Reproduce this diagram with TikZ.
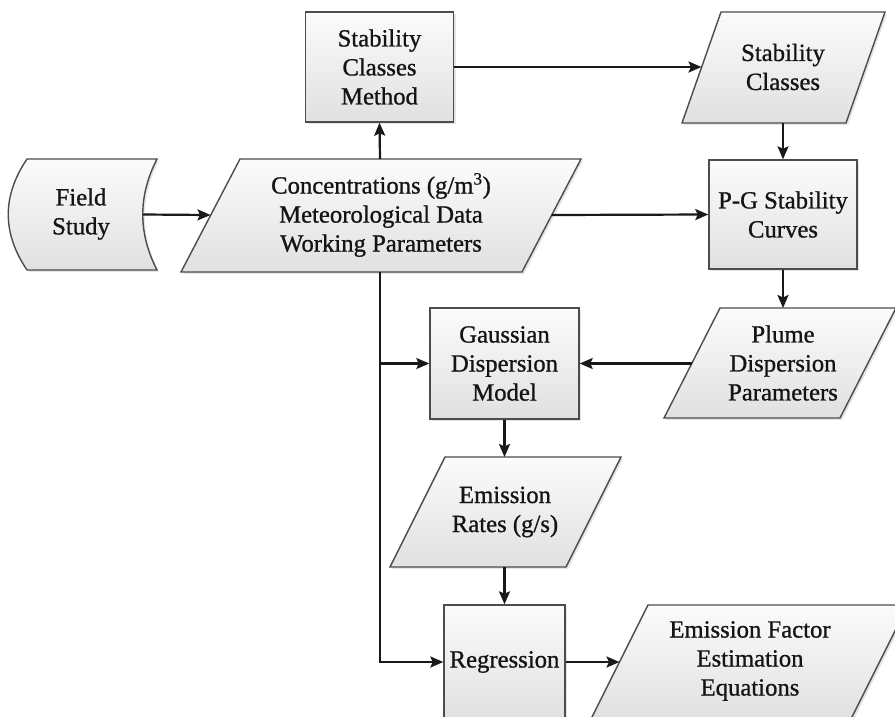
\documentclass[tikz,border=0pt]{standalone}
\usepackage{fontspec}
\setmainfont{Liberation Serif}
\newfontfamily\heavyserif{Liberation Serif}[FakeBold=0.9]
\usetikzlibrary{arrows.meta,shadows}
\newcommand\dfont{\heavyserif\fontsize{24.7}{29}\selectfont}
\begin{document}
\begin{tikzpicture}[x=1pt,y=-1pt,
  shp/.style={draw=gray!60!black, line width=1.4pt, top color=gray!3, bottom color=gray!24,
    drop shadow={shadow xshift=2pt,shadow yshift=-2pt,opacity=0.2,fill=gray}},
  box/.style={shp, rectangle, inner sep=0pt, align=center, font=\dfont, text=black!92},
  txt/.style={align=center, font=\dfont, text=black!92, inner sep=0pt},
  arr/.style={line width=2.2pt, draw=black!90, -{Stealth[length=13pt,width=11pt,inset=2.5pt]}},
  ln/.style={line width=2.2pt, draw=black!90}]
\fill[white] (0,0) rectangle (895,716);
\useasboundingbox (0,0) rectangle (895,716);

% Field Study
\path[shp] (27,159) -- (157,159) .. controls (138,196) and (138,233) .. (157,270)
  -- (27,270) .. controls (2,233) and (2,196) .. (27,159) -- cycle;
\node[txt] (fs) at (81,214) {Field\\Study};
\coordinate (fs-e) at (143,214.5);

% main data parallelogram
\path[shp] (240,159) -- (581,159) -- (522,272) -- (181,272) -- cycle;
\node[txt] (cm) at (381,215) {Concentrations (g/m\textsuperscript{3})\\Meteorological Data\\Working Parameters};
\coordinate (cm-n) at (380,159);
\coordinate (cm-s) at (380,272);
\coordinate (cm-w) at (210.5,215);
\coordinate (cm-e) at (551.5,215);

% Stability Classes Method
\node[box, minimum width=148pt, minimum height=110pt] (scm) at (379.5,67) {Stability\\Classes\\Method};

% Stability Classes
\path[shp] (721,12) -- (885,12) -- (846,123) -- (682,123) -- cycle;
\node[txt] (sc) at (783,67) {Stability\\Classes};
\coordinate (sc-w) at (701.5,67);
\coordinate (sc-s) at (783,123);

% P-G Stability Curves
\node[box, minimum width=148pt, minimum height=109pt] (pg) at (783,214.5) {P-G Stability\\Curves};

% Plume Dispersion Parameters
\path[shp] (720,308) -- (896,308) -- (840,418) -- (664,418) -- cycle;
\node[txt] (pl) at (783,363) {Plume\\Dispersion\\Parameters};
\coordinate (pl-n) at (783,308);
\coordinate (pl-w) at (692,363.5);

% Gaussian Dispersion Model
\node[box, minimum width=149pt, minimum height=111pt] (gd) at (504.5,363.5) {Gaussian\\Dispersion\\Model};

% Emission Rates
\path[shp] (445,457) -- (621,457) -- (566,567) -- (390,567) -- cycle;
\node[txt] (er) at (505,512) {Emission\\Rates (g/s)};
\coordinate (er-n) at (504.5,457);
\coordinate (er-s) at (504.5,567);

% Regression
\node[box, minimum width=121pt, minimum height=114pt] (rg) at (504.5,662) {Regression};

% Emission Factor Estimation Equations
\path[shp] (648,605) -- (908,605) -- (851,719) -- (591,719) -- cycle;
\node[txt] (ef) at (750,661) {Emission Factor\\Estimation\\Equations};
\coordinate (ef-w) at (619.5,662);

% connectors
\draw[arr] (fs-e) -- (cm-w);
\draw[arr] (cm-n) -- (scm.south);
\draw[arr] (scm.east) -- (sc-w);
\draw[arr] (sc-s) -- (pg.north);
\draw[arr] (cm-e) -- (pg.west);
\draw[arr] (pg.south) -- (pl-n);
\draw[arr] (pl-w) -- (gd.east);
\coordinate (jn) at (cm-s |- gd.west);
\draw[arr] (cm-s) |- (rg.west);
\draw[arr] (jn) -- (gd.west);
\draw[arr] (gd.south) -- (er-n);
\draw[arr] (er-s) -- (rg.north);
\draw[arr] (rg.east) -- (ef-w);
\end{tikzpicture}
\end{document}
